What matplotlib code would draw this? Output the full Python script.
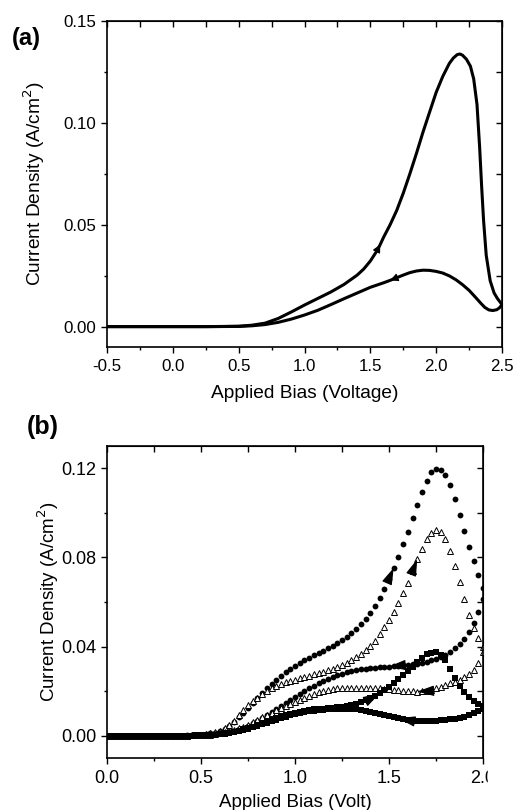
import numpy as np
import matplotlib
matplotlib.use('Agg')
import matplotlib.pyplot as plt
from matplotlib.ticker import MultipleLocator, FormatStrFormatter
from matplotlib.patches import Rectangle

plt.rcParams['font.family'] = ['Liberation Sans', 'DejaVu Sans']

# ---- panel (a): single device, continuous sweep ----
va_fwd = [-0.5, -0.25, 0.0, 0.25, 0.4, 0.5, 0.6, 0.7, 0.8, 0.9, 1.0, 1.1, 1.2, 1.3,
          1.4, 1.45, 1.5, 1.55, 1.575, 1.6, 1.65, 1.7, 1.75, 1.8, 1.85, 1.9, 1.95,
          2.0, 2.05, 2.1, 2.13, 2.16, 2.18, 2.2, 2.23, 2.26, 2.285, 2.31, 2.33,
          2.345, 2.36, 2.38, 2.41, 2.44, 2.465, 2.5]
ja_fwd = [0.0, 0.0, 0.0, 0.0, 0.0001, 0.0002, 0.0007, 0.0017, 0.004, 0.0072, 0.0106,
          0.0138, 0.017, 0.0207, 0.0253, 0.0283, 0.0322, 0.0372, 0.0403, 0.0438,
          0.050, 0.057, 0.0655, 0.075, 0.085, 0.0955, 0.1053, 0.1150, 0.1228,
          0.1292, 0.1318, 0.1335, 0.1338, 0.1332, 0.1312, 0.1278, 0.1215, 0.109,
          0.088, 0.069, 0.052, 0.035, 0.0225, 0.0165, 0.0138, 0.0108]

va_rev = [2.5, 2.48, 2.46, 2.43, 2.4, 2.37, 2.34, 2.3, 2.25, 2.2, 2.15, 2.1, 2.05,
          2.0, 1.95, 1.9, 1.85, 1.8, 1.75, 1.7, 1.65, 1.6, 1.5, 1.4, 1.3, 1.2, 1.1,
          1.0, 0.9, 0.8, 0.7, 0.6, 0.5, 0.25, 0.0, -0.5]
ja_rev = [0.0108, 0.0092, 0.0083, 0.0079, 0.0082, 0.0094, 0.0114, 0.0143, 0.0178,
          0.0206, 0.023, 0.0249, 0.0263, 0.0271, 0.0276, 0.0277, 0.0273, 0.0265,
          0.0253, 0.024, 0.0227, 0.0215, 0.0193, 0.0165, 0.0137, 0.0108, 0.008,
          0.0057, 0.0037, 0.0021, 0.001, 0.0004, 0.0001, 0.0, 0.0, 0.0]

# ---- panel (b): three devices, 0 -> 2 V -> 0 sweeps (0.025 V step) ----
vb = np.linspace(0.0, 2.0, 81)

circ_fwd = [0, 0, 0, 0, 0, 0, 0, 0, 0, 0,
            0, 0, 0, 0, 0, 0, 0, 0.0001, 0.0001, 0.0002,
            0.0003, 0.0006, 0.001, 0.0014, 0.002, 0.003, 0.0045, 0.0063, 0.0082, 0.0103,
            0.0124, 0.0146, 0.0168, 0.019, 0.0212, 0.0232, 0.025, 0.0268, 0.0284, 0.0299,
            0.0313, 0.0326, 0.0338, 0.0349, 0.036, 0.0371, 0.0382, 0.0393, 0.0404, 0.0416,
            0.0429, 0.0444, 0.0461, 0.048, 0.0501, 0.0524, 0.055, 0.0582, 0.0618, 0.0658,
            0.0705, 0.0753, 0.0802, 0.0858, 0.0916, 0.0976, 0.1036, 0.1094, 0.1145, 0.1182,
            0.1198, 0.1192, 0.1168, 0.1125, 0.1062, 0.0992, 0.092, 0.0848, 0.0785, 0.0722,
            0.0662]
circ_rev = [0, 0, 0, 0, 0, 0, 0, 0, 0, 0,
            0, 0, 0, 0, 0, 0, 0, 0, 0.0001, 0.0001,
            0.0002, 0.0003, 0.0005, 0.0007, 0.001, 0.0014, 0.0018, 0.0023, 0.0029, 0.0036,
            0.0045, 0.0055, 0.0067, 0.0081, 0.0095, 0.0108, 0.0121, 0.0134, 0.0147, 0.016,
            0.0173, 0.0186, 0.0199, 0.0212, 0.0224, 0.0235, 0.0245, 0.0255, 0.0264, 0.0272,
            0.0279, 0.0285, 0.0291, 0.0295, 0.0298, 0.0301, 0.0303, 0.0305, 0.0307, 0.0309,
            0.031, 0.0312, 0.0314, 0.0316, 0.0318, 0.0321, 0.0324, 0.0328, 0.0332, 0.0338,
            0.0345, 0.0353, 0.0363, 0.0376, 0.0392, 0.0412, 0.0436, 0.0465, 0.0505, 0.0555,
            0.0612]
tri_fwd = [0, 0, 0, 0, 0, 0, 0, 0, 0, 0,
           0, 0, 0, 0, 0, 0, 0, 0, 0.0001, 0.0002,
           0.0003, 0.0006, 0.001, 0.0015, 0.0022, 0.0033, 0.0048, 0.0068, 0.0092, 0.0116,
           0.0136, 0.0155, 0.0171, 0.0186, 0.02, 0.0212, 0.0222, 0.0231, 0.0239, 0.0245,
           0.0251, 0.0257, 0.0263, 0.0269, 0.0275, 0.0281, 0.0287, 0.0293, 0.0299, 0.0307,
           0.0316, 0.0326, 0.0338, 0.0352, 0.0367, 0.0384, 0.0403, 0.0425, 0.0455, 0.0487,
           0.0518, 0.0553, 0.0595, 0.064, 0.0687, 0.0738, 0.0792, 0.084, 0.0882, 0.091,
           0.0925, 0.0915, 0.0882, 0.083, 0.076, 0.0688, 0.0612, 0.0542, 0.0485, 0.044,
           0.040]
tri_rev = [0, 0, 0, 0, 0, 0, 0, 0, 0, 0,
           0, 0, 0, 0, 0, 0, 0, 0, 0.0001, 0.0001,
           0.0002, 0.0003, 0.0005, 0.0008, 0.0011, 0.0015, 0.002, 0.0026, 0.0033, 0.0041,
           0.005, 0.006, 0.0071, 0.0082, 0.0093, 0.0104, 0.0114, 0.0124, 0.0134, 0.0144,
           0.0153, 0.0162, 0.017, 0.0178, 0.0186, 0.0194, 0.02, 0.0205, 0.0209, 0.0212,
           0.0214, 0.0215, 0.0216, 0.0216, 0.0216, 0.0216, 0.0215, 0.0214, 0.0212, 0.021,
           0.0208, 0.0206, 0.0204, 0.0202, 0.02, 0.0199, 0.0198, 0.0199, 0.0202, 0.0207,
           0.0213, 0.022, 0.0227, 0.0235, 0.0243, 0.0252, 0.0263, 0.0276, 0.0295, 0.0325,
           0.0375]
sq_fwd = [0, 0, 0, 0, 0, 0, 0, 0, 0, 0,
          0, 0, 0, 0, 0, 0, 0, 0, 0, 0.0001,
          0.0001, 0.0002, 0.0003, 0.0005, 0.0007, 0.001, 0.0013, 0.0018, 0.0023, 0.0029,
          0.0035, 0.0041, 0.0048, 0.0056, 0.0064, 0.0072, 0.008, 0.0087, 0.0093, 0.0099,
          0.0104, 0.0108, 0.0112, 0.0115, 0.0118, 0.012, 0.0122, 0.0124, 0.0126, 0.0128,
          0.013, 0.0133, 0.0136, 0.0143, 0.015, 0.016, 0.0168, 0.0178, 0.019, 0.0205,
          0.022, 0.0238, 0.0255, 0.0272, 0.029, 0.031, 0.033, 0.035, 0.0365, 0.0372,
          0.0375, 0.0362, 0.034, 0.0298, 0.026, 0.0225, 0.0195, 0.0172, 0.0155, 0.0142,
          0.0135]
sq_rev = [0, 0, 0, 0, 0, 0, 0, 0, 0, 0,
          0, 0, 0, 0, 0, 0, 0, 0, 0, 0.0001,
          0.0001, 0.0002, 0.0003, 0.0004, 0.0006, 0.0008, 0.0011, 0.0015, 0.002, 0.0025,
          0.0031, 0.0037, 0.0044, 0.0051, 0.0058, 0.0065, 0.0072, 0.0079, 0.0085, 0.0091,
          0.0096, 0.0101, 0.0105, 0.0109, 0.0112, 0.0115, 0.0117, 0.0119, 0.012, 0.0121,
          0.0122, 0.0122, 0.0121, 0.012, 0.0117, 0.0113, 0.0108, 0.0102, 0.0097, 0.0092,
          0.0087, 0.0082, 0.0078, 0.0074, 0.0071, 0.0069, 0.0067, 0.0066, 0.0066, 0.0066,
          0.0067, 0.0069, 0.0071, 0.0074, 0.0077, 0.0081, 0.0086, 0.0093, 0.0101, 0.011,
          0.012]


def arrow_on(ax, x, y, tip, scale, hl, hw):
    # x, y in sweep order; arrow head sits on the point nearest to `tip`
    x = np.asarray(x)
    y = np.asarray(y)
    i = int(np.argmin(np.abs(x - tip)))
    ax.annotate('', xy=(x[i], y[i]), xytext=(x[i - 1], y[i - 1]),
                arrowprops=dict(arrowstyle='-|>,head_length=%g,head_width=%g' % (hl, hw),
                                color='k', lw=0.8, mutation_scale=scale,
                                shrinkA=0, shrinkB=0), zorder=5)


def frame(ax, xmaj, xmin, ymaj, ymin, fs):
    for sp in ax.spines.values():
        sp.set_linewidth(1.2)
    ax.xaxis.set_major_locator(MultipleLocator(xmaj))
    ax.xaxis.set_minor_locator(MultipleLocator(xmin))
    ax.yaxis.set_major_locator(MultipleLocator(ymaj))
    ax.yaxis.set_minor_locator(MultipleLocator(ymin))
    ax.tick_params(which='both', direction='out', width=1.0, labelsize=fs)
    ax.tick_params(which='major', length=4.5)
    ax.tick_params(which='minor', length=2.5)
    ax.tick_params(axis='x', pad=4)
    ax.tick_params(axis='y', pad=3)
    top = ax.secondary_xaxis('top')
    top.xaxis.set_major_locator(MultipleLocator(xmin))
    top.tick_params(direction='in', length=4, width=1.0, labeltop=False)
    right = ax.secondary_yaxis('right')
    right.yaxis.set_major_locator(MultipleLocator(ymin))
    right.tick_params(direction='in', length=4, width=1.0, labelright=False)


fig = plt.figure(figsize=(5.14, 8.10), dpi=100)

# panel (a)
ax1 = fig.add_axes([0.2082, 0.5716, 0.7685, 0.4025])
ax1.plot(va_fwd, ja_fwd, color='k', lw=2.2, solid_capstyle='round', solid_joinstyle='round')
ax1.plot(va_rev, ja_rev, color='k', lw=2.2, solid_capstyle='round', solid_joinstyle='round')
arrow_on(ax1, va_fwd, ja_fwd, 1.575, 6, 0.8, 0.4)
arrow_on(ax1, va_rev, ja_rev, 1.65, 6, 0.8, 0.4)
ax1.set_xlim(-0.5, 2.5)
ax1.set_ylim(-0.01, 0.15)
frame(ax1, 0.5, 0.25, 0.05, 0.025, 12.2)
ax1.xaxis.set_major_formatter(FormatStrFormatter('%.1f'))
ax1.yaxis.set_major_formatter(FormatStrFormatter('%.2f'))
ax1.set_xlabel('Applied Bias (Voltage)', fontsize=13.8, va='center')
ax1.set_ylabel('Current Density (A/cm$^2$)', fontsize=13.8, va='center')
ax1.xaxis.set_label_coords(0.5, -0.144)
ax1.yaxis.set_label_coords(-0.183, 0.5)
fig.text(26 / 514, 1 - 38 / 810, '(a)', fontsize=17, fontweight='bold',
         ha='center', va='center')

# panel (b)
ax2 = fig.add_axes([0.2082, 0.0642, 0.7315, 0.3852])
ax2.plot(vb, circ_fwd, 'o', color='k', ms=4.2, mew=0)
ax2.plot(vb, circ_rev, 'o', color='k', ms=4.2, mew=0)
ax2.plot(vb, tri_fwd, '^', mfc='white', mec='k', ms=4.4, mew=0.7)
ax2.plot(vb, tri_rev, '^', mfc='white', mec='k', ms=4.4, mew=0.7)
ax2.plot(vb, sq_fwd, 's', color='k', ms=3.8, mew=0)
ax2.plot(vb, sq_rev, 's', color='k', ms=3.8, mew=0)

vb_back = vb[::-1]
arrow_on(ax2, vb, circ_fwd, 1.525, 13, 0.8, 0.25)
arrow_on(ax2, vb, tri_fwd, 1.65, 13, 0.8, 0.25)
arrow_on(ax2, vb, sq_fwd, 1.45, 13, 0.8, 0.25)
arrow_on(ax2, vb_back, circ_rev[::-1], 1.5, 13, 0.8, 0.25)
arrow_on(ax2, vb_back, tri_rev[::-1], 1.65, 13, 0.8, 0.25)
arrow_on(ax2, vb_back, sq_rev[::-1], 1.55, 13, 0.8, 0.25)

ax2.set_xlim(0.0, 2.0)
ax2.set_ylim(-0.01, 0.13)
frame(ax2, 0.5, 0.25, 0.04, 0.02, 13)
ax2.xaxis.set_major_formatter(FormatStrFormatter('%.1f'))
ax2.yaxis.set_major_formatter(FormatStrFormatter('%.2f'))
ax2.set_xlabel('Applied Bias (Volt)', fontsize=13.5, va='center')
ax2.set_ylabel('Current Density (A/cm$^2$)', fontsize=13.5, va='center')
ax2.xaxis.set_label_coords(0.5, -0.144)
ax2.yaxis.set_label_coords(-0.155, 0.5)
fig.text(43 / 514, 1 - 427 / 810, '(b)', fontsize=18, fontweight='bold',
         ha='center', va='center')

# the source image is cropped just right of the lower panel
fig.patches.append(Rectangle((488 / 514, 0.0), 1 - 488 / 514, 0.455,
                             transform=fig.transFigure, color='white', zorder=10))

fig.savefig('out.png', dpi=100)
